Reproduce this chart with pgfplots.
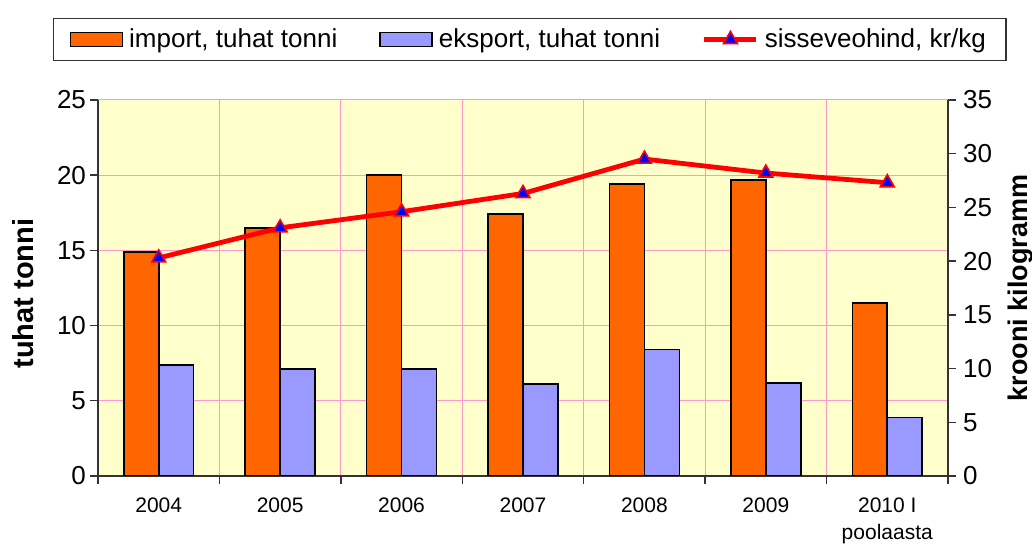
\documentclass[border=0pt]{standalone}
\usepackage{fontspec}
\setmainfont{Liberation Sans}
\usepackage{pgfplots}
\pgfplotsset{compat=1.18}
\definecolor{impcol}{HTML}{FF6600}
\definecolor{expcol}{HTML}{9999FF}
\definecolor{bgcol}{HTML}{FFFFCC}
\definecolor{gridcol}{HTML}{FF99CC}
\pgfplotsset{
  barleg/.style={legend image code/.code={\draw[##1] (0pt,-3.5pt) rectangle (26pt,3.5pt);}},
  lineleg/.style={legend image code/.code={\draw[mark repeat=2,mark phase=2,##1] plot coordinates {(0pt,0pt) (13pt,0pt) (26pt,0pt)};}},
}
\begin{document}
\begin{tikzpicture}
\useasboundingbox (-49pt,-34.5pt) rectangle (467pt,238pt);
\begin{axis}[
  at={(0pt,0pt)}, anchor=south west,
  scale only axis, width=425pt, height=188pt,
  xmin=-0.5, xmax=6.5, ymin=0, ymax=25,
  axis x line*=bottom, axis y line*=left,
  axis line style={black!80, line width=0.7pt},
  axis background/.style={fill=bgcol},
  ytick={0,5,...,25},
  xtick={-0.5,0.5,...,6.5}, xticklabels={},
  grid=major, major grid style={gridcol, line width=0.5pt},
  tick align=outside, major tick length=4pt,
  tick style={black!80, line width=0.7pt},
  extra x ticks={0,...,6},
  extra x tick labels={2004,2005,2006,2007,2008,2009,{2010 I\\poolaasta}},
  extra x tick style={grid=none, tick style={draw=none}},
  xticklabel style={font=\fontsize{10.5}{13.5}\selectfont, align=center, yshift=-3.5pt},
  yticklabel style={font=\fontsize{13}{15}\selectfont, xshift=1.5pt},
  /pgf/number format/assume math mode=true,
  ylabel={tuhat tonni},
  ylabel style={font=\bfseries\fontsize{14.5}{17}\selectfont, at={(axis description cs:-0.088,0.485)}, anchor=center},
  ybar=0pt, bar width=0.288,
]
\addplot[fill=impcol, draw=black, line width=0.8pt] coordinates {(0,14.9)(1,16.5)(2,20.0)(3,17.4)(4,19.4)(5,19.7)(6,11.5)};
\addplot[fill=expcol, draw=black, line width=0.8pt] coordinates {(0,7.4)(1,7.1)(2,7.1)(3,6.1)(4,8.4)(5,6.2)(6,3.9)};
\end{axis}
\begin{axis}[
  at={(0pt,0pt)}, anchor=south west,
  scale only axis, width=425pt, height=188pt,
  xmin=-0.5, xmax=6.5, ymin=0, ymax=35,
  axis x line=none, axis y line*=right,
  axis line style={black!80, line width=0.7pt},
  ytick={0,5,...,35},
  tick align=outside, major tick length=4pt,
  tick style={black!80, line width=0.7pt},
  yticklabel style={font=\fontsize{13}{15}\selectfont},
  /pgf/number format/assume math mode=true,
  ylabel={krooni kilogramm},
  ylabel style={font=\bfseries\fontsize{13.5}{16}\selectfont, at={(axis description cs:1.085,0.5)}, anchor=center, rotate=0},
  legend columns=3,
  legend cell align=left,
  legend style={at={(0.508,1.161)}, anchor=center, draw=black!80, line width=0.6pt,
    font=\fontsize{13}{15}\selectfont, inner xsep=8pt, inner ysep=3pt,
    /tikz/every even column/.append style={column sep=19pt},
    /tikz/every odd column/.append style={column sep=1pt}},
]
\addlegendimage{barleg, fill=impcol, draw=black, line width=0.8pt}
\addlegendentry{import, tuhat tonni}
\addlegendimage{barleg, fill=expcol, draw=black, line width=0.8pt}
\addlegendentry{eksport, tuhat tonni}
\addplot[red, line width=2.4pt, mark=triangle*, mark size=4pt, mark options={fill=blue, draw=red, line width=0.8pt, solid}, lineleg]
  coordinates {(0,20.3)(1,23.1)(2,24.6)(3,26.3)(4,29.5)(5,28.2)(6,27.3)};
\addlegendentry{sisseveohind, kr/kg}
\end{axis}
\end{tikzpicture}
\end{document}
